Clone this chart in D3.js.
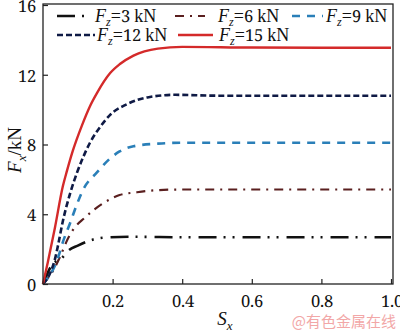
<!DOCTYPE html>
<html><head><meta charset="utf-8">
<script src="https://cdn.jsdelivr.net/npm/d3@7"></script>
<style>
@font-face{font-family:"DigitSerif";src:local("Noto Serif"),local("NotoSerif-Regular"),local("DejaVu Serif"),local("DejaVuSerif");unicode-range:U+0030-0039,U+002E;size-adjust:92%;}
body{margin:0;background:#fff}svg{display:block}
.serif{font-family:"DigitSerif","Liberation Serif","Noto Serif",serif}</style>
</head><body>
<script>
const xTicks = [0.2, 0.4, 0.6, 0.8, 1.0];
const yTicks = [0, 4, 8, 12, 16];
const loads = ["3", "6", "9", "12", "15"];
const sx3  = [0, 0.026, 0.055, 0.072, 0.1, 0.144, 0.184, 0.25, 0.3, 0.4, 0.6, 0.8, 1.0];
const fx3  = [0, 1.1, 1.5, 1.9, 2.2, 2.55, 2.67, 2.71, 2.7, 2.68, 2.68, 2.68, 2.68];
const sx6  = [0, 0.03, 0.05, 0.069, 0.086, 0.12, 0.149, 0.187, 0.22, 0.27, 0.32, 0.4, 0.6, 0.8, 1.0];
const fx6  = [0, 0.8, 1.6, 2.5, 3.1, 3.8, 4.3, 4.8, 5.1, 5.26, 5.37, 5.42, 5.42, 5.42, 5.42];
const sx9  = [0, 0.043, 0.057, 0.078, 0.098, 0.115, 0.155, 0.193, 0.22, 0.26, 0.33, 0.4, 0.6, 0.8, 1.0];
const fx9  = [0, 1.5, 2.4, 3.5, 4.6, 5.4, 6.4, 7.2, 7.6, 7.9, 8.05, 8.1, 8.1, 8.1, 8.1];
const sx12 = [0, 0.02, 0.034, 0.043, 0.057, 0.078, 0.098, 0.115, 0.135, 0.164, 0.193, 0.24, 0.3, 0.38, 0.5, 0.7, 1.0];
const fx12 = [0, 0.6, 1.4, 2.2, 3.6, 5.2, 6.4, 7.25, 8.1, 9.0, 9.7, 10.3, 10.7, 10.85, 10.8, 10.8, 10.8];
const sx15 = [0, 0.014, 0.034, 0.057, 0.069, 0.086, 0.112, 0.135, 0.155, 0.193, 0.22, 0.26, 0.33, 0.4, 0.6, 0.8, 1.0];
const fx15 = [0, 1.26, 3.2, 5.6, 6.5, 7.66, 9.1, 10.2, 10.95, 12.1, 12.6, 13.1, 13.5, 13.6, 13.56, 13.55, 13.55];

const W = 400, H = 332;
const svg = d3.select("body").append("svg").attr("width", W).attr("height", H);
const x = d3.scaleLinear().domain([0, 1]).range([43, 391]);
const y = d3.scaleLinear().domain([0, 16]).range([284, 5]);

const series = [
  {s: sx3,  f: fx3,  color: "#111111", dash: "18,7,2,7,2,8", w: 2.6},
  {s: sx6,  f: fx6,  color: "#5a1f1f", dash: "9,6,2,6", w: 2.2},
  {s: sx9,  f: fx9,  color: "#2a7fb8", dash: "8,7", w: 2.6},
  {s: sx12, f: fx12, color: "#0f1a45", dash: "6,3", w: 2.6},
  {s: sx15, f: fx15, color: "#d42a2a", dash: null, w: 2.4}
];

const line = d3.line().x(d => x(d[0])).y(d => y(d[1])).curve(d3.curveMonotoneX);
series.forEach(sr => {
  svg.append("path").datum(sr.s.map((v, i) => [v, sr.f[i]]))
    .attr("d", line).attr("fill", "none").attr("stroke", sr.color)
    .attr("stroke-width", sr.w).attr("stroke-dasharray", sr.dash);
});

// frame
svg.append("rect").attr("x", x(0)).attr("y", y(16) - 1).attr("width", x(1) - x(0) + 2)
  .attr("height", y(0) - y(16) + 1).attr("fill", "none").attr("stroke", "#222").attr("stroke-width", 1.3);

const xAxis = d3.axisBottom(x).tickValues(xTicks).tickSize(-5).tickPadding(10).tickFormat(d3.format(".1f"));
const gx = svg.append("g").attr("transform", `translate(0,${y(0)})`).call(xAxis);
const yAxis = d3.axisLeft(y).tickValues(yTicks).tickSize(-5).tickPadding(7).tickFormat(d3.format("d"));
const gy = svg.append("g").attr("transform", `translate(${x(0)},0)`).call(yAxis);
[gx, gy].forEach(g => {
  g.attr("font-family", null).attr("font-size", null);
  g.select(".domain").remove();
  g.selectAll(".tick line").attr("stroke", "#222").attr("stroke-width", 1.2);
  g.selectAll("text").attr("class", "serif").style("font-size", "18px").attr("fill", "#111");
});
gx.selectAll(".tick text").attr("dy", "0.71em");
gy.selectAll(".tick text").attr("dy", "0.35em");

// axis titles
const yt = svg.append("text").attr("class", "serif").attr("transform", "translate(21,150) rotate(-90)")
  .attr("text-anchor", "middle").style("font-size", "19px").attr("fill", "#111");
yt.append("tspan").attr("font-style", "italic").text("F");
yt.append("tspan").attr("font-style", "italic").style("font-size", "13px").attr("dy", 5).text("x");
yt.append("tspan").attr("dy", -5).text("/kN");

const xt = svg.append("text").attr("class", "serif").attr("x", 225).attr("y", 325)
  .attr("text-anchor", "middle").style("font-size", "19px").attr("fill", "#111");
xt.append("tspan").attr("font-style", "italic").text("S");
xt.append("tspan").attr("font-style", "italic").style("font-size", "13px").attr("dy", 5).text("x");

// legend
const legendPos = [
  {lx: 57, ly: 16, len: 28, tx: 95},
  {lx: 175, ly: 16, len: 30, tx: 218},
  {lx: 292, ly: 16, len: 31, tx: 326},
  {lx: 57, ly: 35, len: 38, tx: 97},
  {lx: 178, ly: 35, len: 35, tx: 219}
];
series.forEach((sr, i) => {
  const p = legendPos[i];
  svg.append("line").attr("x1", p.lx).attr("x2", p.lx + p.len).attr("y1", p.ly).attr("y2", p.ly)
    .attr("stroke", sr.color).attr("stroke-width", sr.w).attr("stroke-dasharray", sr.dash);
  const t = svg.append("text").attr("class", "serif").attr("x", p.tx).attr("y", p.ly + 6)
    .style("font-size", "18px").attr("fill", "#111");
  t.append("tspan").attr("font-style", "italic").text("F");
  t.append("tspan").attr("font-style", "italic").style("font-size", "12px").attr("dy", 4).text("z");
  t.append("tspan").attr("dy", -4).text("=" + loads[i] + " kN");
});

// watermark
svg.append("text").attr("x", 396).attr("y", 327).attr("text-anchor", "end")
  .style("font-family", "'Noto Sans CJK SC', sans-serif").style("font-size", "15px").attr("fill", "#f2a7a7")
  .text("@有色金属在线");
</script>
</body></html>
